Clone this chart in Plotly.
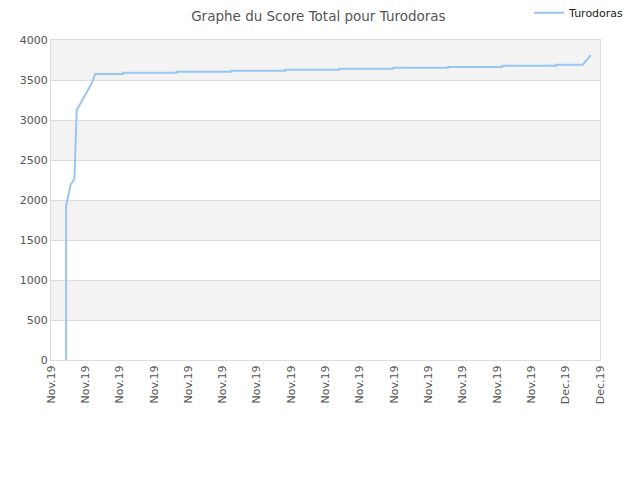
import plotly.graph_objects as go

# x positions expressed in tick units (0 = first label, 16 = last label)
tick_labels = ["Nov.19"] * 15 + ["Dec.19"] * 2
tick_pos = list(range(len(tick_labels)))

x_vals = [0.44, 0.44, 0.57, 0.68, 0.70, 0.72, 0.75, 1.19, 1.29,
          2.10, 2.10, 3.67, 3.67, 5.25, 5.25, 6.82, 6.82, 8.40, 8.40,
          9.97, 9.97, 11.57, 11.57, 13.15, 13.15, 14.72, 14.72, 15.50, 15.73]
score = [0, 1925, 2190, 2260, 2500, 2910, 3125, 3460, 3575,
         3575, 3591, 3591, 3604, 3604, 3616, 3616, 3629, 3629, 3641,
         3641, 3654, 3654, 3664, 3664, 3679, 3679, 3691, 3691, 3812]

y_ticks = [0, 500, 1000, 1500, 2000, 2500, 3000, 3500, 4000]

fig = go.Figure()
fig.add_trace(go.Scatter(x=x_vals, y=score, mode='lines', name='Turodoras',
                         line=dict(color='#99c5f2', width=2)))

# alternating grey bands
for lo, hi in zip(y_ticks[:-1], y_ticks[1:]):
    if lo % 1000 == 500:
        fig.add_shape(type='rect', xref='paper', yref='y', x0=0, x1=1, y0=lo, y1=hi,
                      fillcolor='#f3f3f3', line_width=0, layer='below')

# the page body adds an 8px offset, margins are shifted to compensate
fig.update_layout(
    width=640, height=480,
    title=dict(text='Graphe du Score Total pour Turodoras', x=0.485, xref='container',
               y=0.983, yref='container', xanchor='center', yanchor='middle',
               font=dict(size=13.5, color='#555555')),
    font=dict(family='DejaVu Sans', size=11, color='#555555'),
    plot_bgcolor='white', paper_bgcolor='white',
    margin=dict(l=43, r=48, t=32, b=128, autoexpand=False),
    showlegend=True,
    legend=dict(x=0.972, y=0.99, xref='container', yref='container',
                xanchor='right', yanchor='middle', itemwidth=30,
                font=dict(size=11, color='#222222'), bgcolor='rgba(0,0,0,0)'),
    xaxis=dict(range=[0, 16], tickvals=tick_pos, ticktext=tick_labels, tickangle=-90,
               automargin=False,
               showgrid=False, zeroline=False, showline=True, linecolor='#dddddd',
               mirror=True, ticks='', tickfont=dict(size=11, color='#555555')),
    yaxis=dict(range=[0, 4000], tickvals=y_ticks, showgrid=True, gridcolor='#dddddd',
               automargin=False,
               zeroline=False, showline=True, linecolor='#dddddd', mirror=True,
               ticks='', tickfont=dict(size=11, color='#555555')),
)

fig.write_html("out.html")
